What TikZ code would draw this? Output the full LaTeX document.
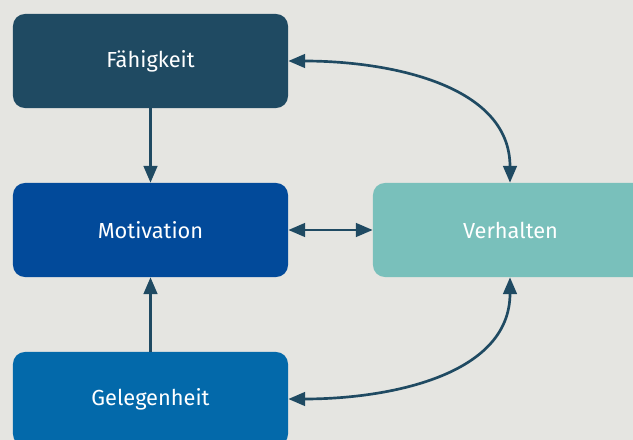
\documentclass[tikz,border=0pt]{standalone}
\usepackage{fontspec}
\setmainfont{Fira Sans}
\usetikzlibrary{arrows.meta,positioning}

\definecolor{bgGrey}{HTML}{E5E5E1}
\definecolor{darkPetrol}{HTML}{1F4A62}
\definecolor{royalBlue}{HTML}{024A9A}
\definecolor{midBlue}{HTML}{0369AA}
\definecolor{softTeal}{HTML}{79C0BB}

\tikzset{
	factor/.style={rounded corners=0.3cm, minimum width=6.875cm, minimum height=2.35cm,
		text=white, font=\fontsize{15.5}{18}\selectfont, inner sep=0pt},
	link/.style={darkPetrol, line width=1.9pt, {Triangle[length=0.42cm,width=0.34cm]}-{Triangle[length=0.42cm,width=0.34cm]}},
	onelink/.style={darkPetrol, line width=1.9pt, -{Triangle[length=0.42cm,width=0.34cm]}}
}

\begin{document}
\begin{tikzpicture}[x=0.025cm, y=-0.025cm]
		\fill[bgGrey] (0,0) rectangle (633,440);
		\useasboundingbox (0,0) rectangle (633,440);
		
		% the three factors on the left
		\node[factor, fill=darkPetrol] (faehig) at (150.5, 61) {Fähigkeit};
		\node[factor, fill=royalBlue] (motiv) at (150.5, 230) {Motivation};
		\node[factor, fill=midBlue] (gelegen) at (150.5, 399) {Gelegenheit};
		
		% behaviour
		\node[factor, fill=softTeal] (verhalt) at (510.5, 230) {Verhalten};
		
		\draw[onelink] (faehig) -- (motiv);
		\draw[onelink] (gelegen) -- (motiv);
		\draw[link] (motiv) -- (verhalt);
		\draw[link] (faehig.east) to[out=0, in=90] (verhalt.north -| 510,0);
		\draw[link] (gelegen.east) to[out=0, in=-90] (verhalt.south -| 510,0);
	\end{tikzpicture}
\end{document}
